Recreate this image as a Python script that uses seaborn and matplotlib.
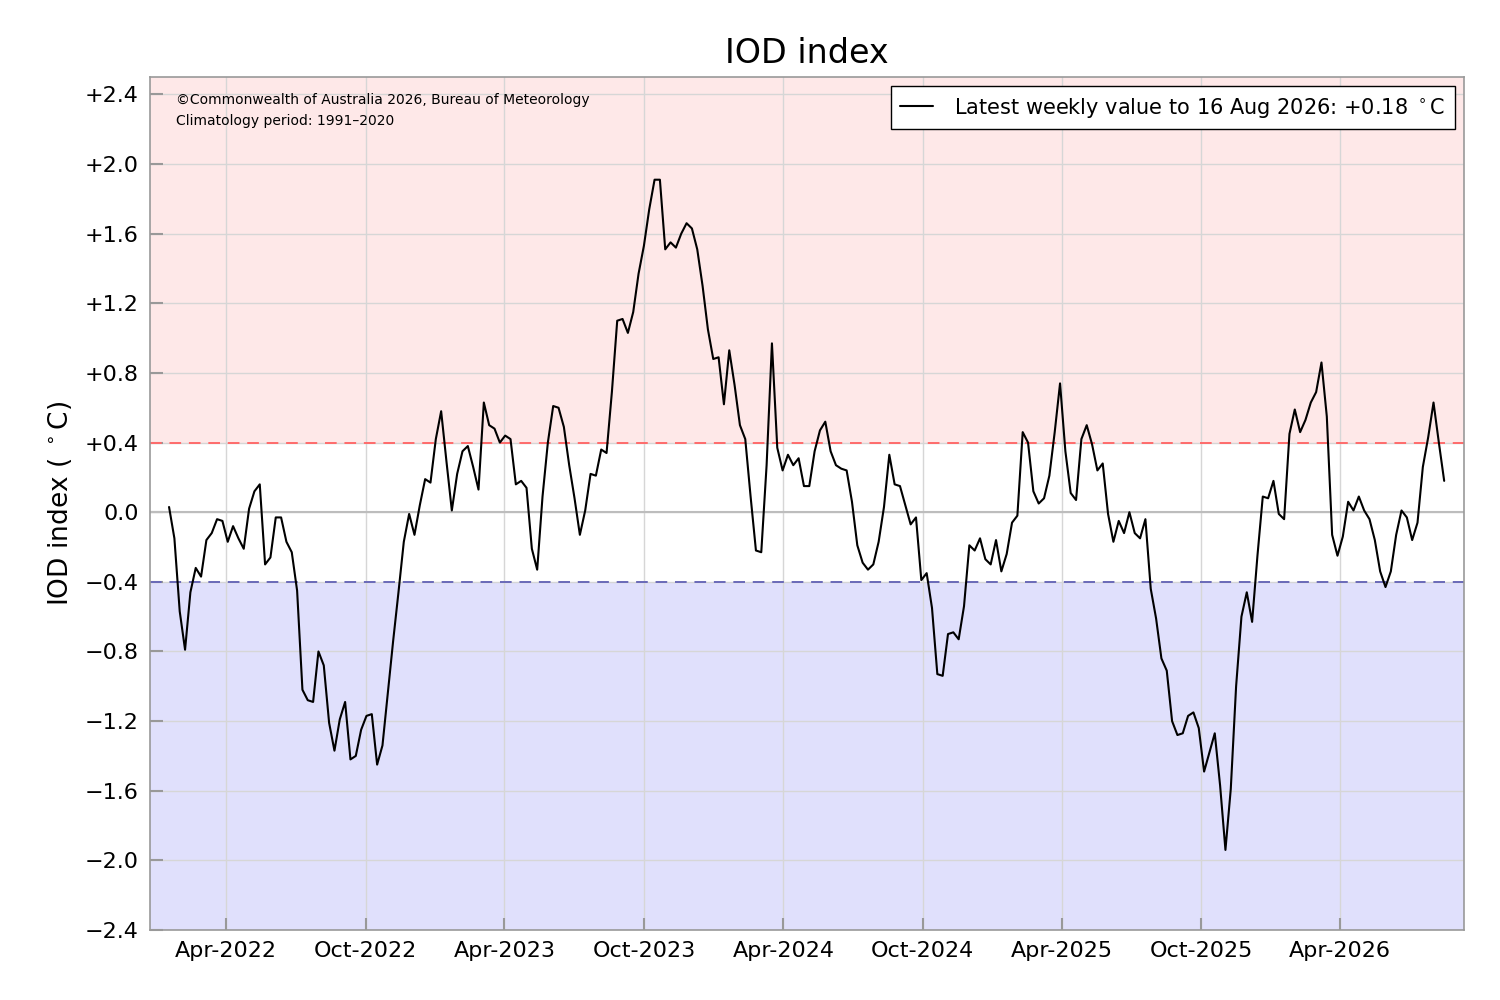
import numpy as np
import pandas as pd
import matplotlib
matplotlib.use("Agg")
import matplotlib.pyplot as plt
import matplotlib.dates as mdates
from matplotlib.ticker import FuncFormatter, MultipleLocator
import seaborn as sns

# ---- data ----
start_date = "2022-01-16"
iod_values = [
    0.03, -0.15, -0.57, -0.79, -0.46, -0.32, -0.37, -0.16, -0.12, -0.04,
    -0.05, -0.17, -0.08, -0.15, -0.21, 0.02, 0.12, 0.16, -0.30, -0.26,
    -0.03, -0.03, -0.17, -0.23, -0.45, -1.02, -1.08, -1.09, -0.80, -0.88,
    -1.21, -1.37, -1.19, -1.09, -1.42, -1.40, -1.25, -1.17, -1.16, -1.45,
    -1.34, -1.04, -0.74, -0.46, -0.17, -0.01, -0.13, 0.04, 0.19, 0.17,
    0.42, 0.58, 0.29, 0.01, 0.22, 0.35, 0.38, 0.26, 0.13, 0.63,
    0.50, 0.48, 0.40, 0.44, 0.42, 0.16, 0.18, 0.14, -0.21, -0.33,
    0.09, 0.40, 0.61, 0.60, 0.49, 0.27, 0.08, -0.13, 0.01, 0.22,
    0.21, 0.36, 0.34, 0.69, 1.10, 1.11, 1.03, 1.15, 1.37, 1.53,
    1.74, 1.91, 1.91, 1.51, 1.55, 1.52, 1.60, 1.66, 1.63, 1.51,
    1.30, 1.05, 0.88, 0.89, 0.62, 0.93, 0.73, 0.50, 0.42, 0.09,
    -0.22, -0.23, 0.27, 0.97, 0.37, 0.24, 0.33, 0.27, 0.31, 0.15,
    0.15, 0.35, 0.47, 0.52, 0.35, 0.27, 0.25, 0.24, 0.06, -0.19,
    -0.29, -0.33, -0.30, -0.17, 0.03, 0.33, 0.16, 0.15, 0.04, -0.07,
    -0.03, -0.39, -0.35, -0.55, -0.93, -0.94, -0.70, -0.69, -0.73, -0.54,
    -0.19, -0.22, -0.15, -0.27, -0.30, -0.16, -0.34, -0.24, -0.06, -0.02,
    0.46, 0.40, 0.12, 0.05, 0.08, 0.21, 0.46, 0.74, 0.35, 0.11,
    0.07, 0.42, 0.50, 0.39, 0.24, 0.28, -0.01, -0.17, -0.05, -0.12,
    0.00, -0.12, -0.15, -0.04, -0.44, -0.61, -0.84, -0.91, -1.20, -1.28,
    -1.27, -1.17, -1.15, -1.24, -1.49, -1.38, -1.27, -1.57, -1.94, -1.59,
    -1.00, -0.60, -0.46, -0.63, -0.25, 0.09, 0.08, 0.18, -0.01, -0.04,
    0.45, 0.59, 0.46, 0.53, 0.63, 0.69, 0.86, 0.55, -0.13, -0.25,
    -0.14, 0.06, 0.01, 0.09, 0.01, -0.04, -0.16, -0.34, -0.43, -0.34,
    -0.13, 0.01, -0.03, -0.16, -0.06, 0.26, 0.43, 0.63, 0.40, 0.18,
]
dates = pd.date_range(start_date, periods=len(iod_values), freq="7D")
df = pd.DataFrame({"date": dates, "iod": iod_values})

title_text = "IOD index"
ylabel_text = "IOD index ( $^\\circ$C)"
legend_text = "Latest weekly value to 16 Aug 2026: +0.18 $^\\circ$C"
note_lines = ["\u00a9Commonwealth of Australia 2026, Bureau of Meteorology",
              "Climatology period: 1991\u20132020"]
pos_threshold = 0.4
neg_threshold = -0.4
y_min, y_max = -2.4, 2.5

# ---- plot ----
sns.set_theme(style="white")
plt.rcParams["font.family"] = ["DejaVu Sans"]
plt.rcParams["text.color"] = "black"
plt.rcParams["axes.labelcolor"] = "black"

fig = plt.figure(figsize=(15, 10), dpi=100)
ax = fig.add_axes([0.1, 0.07, 0.876, 0.853])

ax.axhspan(pos_threshold, y_max, color="#fee8e8", zorder=0, lw=0)
ax.axhspan(y_min, neg_threshold, color="#e0e0fc", zorder=0, lw=0)
ax.axhline(pos_threshold, color="#ff6b6b", ls=(0, (6, 4)), lw=1.4, zorder=1)
ax.axhline(neg_threshold, color="#6a6ab8", ls=(0, (6, 4)), lw=1.4, zorder=1)
ax.axhline(0, color="#bdbdbd", lw=1.5, zorder=1)

sns.lineplot(data=df, x="date", y="iod", ax=ax, color="black", lw=1.5,
             label=legend_text, zorder=3)

ax.set_ylim(y_min, y_max)
ax.set_xlim(pd.Timestamp("2021-12-22"), pd.Timestamp("2026-09-11"))
ax.yaxis.set_major_locator(MultipleLocator(0.4))


def yfmt(v, pos):
    v = round(v, 1)
    if abs(v) < 1e-9:
        return "0.0"
    return ("+%.1f" % v) if v > 0 else ("\u2212%.1f" % abs(v))


ax.yaxis.set_major_formatter(FuncFormatter(yfmt))
ax.xaxis.set_major_locator(mdates.MonthLocator(bymonth=[4, 10]))
ax.xaxis.set_major_formatter(mdates.DateFormatter("%b-%Y"))

ax.grid(True, color="#d6d6d6", lw=1.0)
ax.set_axisbelow(True)
for s in ax.spines.values():
    s.set_color("#999999")
    s.set_linewidth(1.2)
ax.tick_params(axis="both", direction="in", length=9, width=1.5,
               color="#999999", labelcolor="black", labelsize=16, pad=8,
               bottom=True, left=True)

ax.set_xlabel("")
ax.set_ylabel(ylabel_text, fontsize=19, labelpad=8)
ax.set_title(title_text, fontsize=24, pad=10)

ax.text(0.02, 0.973, note_lines[0], transform=ax.transAxes, fontsize=10,
        va="center", ha="left")
ax.text(0.02, 0.948, note_lines[1], transform=ax.transAxes, fontsize=10,
        va="center", ha="left")

leg = ax.legend(loc="upper right", fontsize=15, frameon=True, fancybox=False,
                framealpha=1, borderaxespad=0.45, handlelength=1.6,
                handletextpad=1.0, borderpad=0.45)
leg.get_frame().set_edgecolor("black")
leg.get_frame().set_linewidth(1.0)

fig.savefig("out.png", dpi=100)
